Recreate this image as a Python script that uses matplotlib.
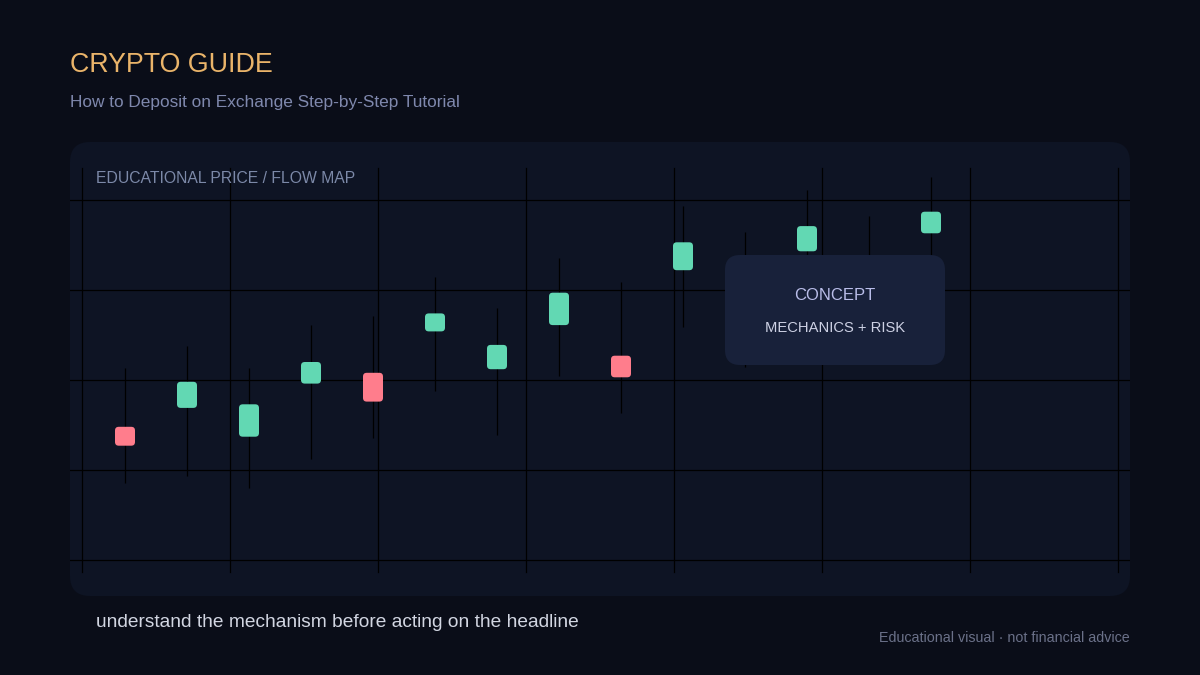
import matplotlib
matplotlib.use("Agg")
import matplotlib.pyplot as plt
from matplotlib.patches import FancyBboxPatch
import numpy as np

plt.rcParams['font.family'] = ['Liberation Sans', 'DejaVu Sans']

# candle data (price units), 14 sessions
opens = [114.8, 116.9, 113.7, 119.6, 120.8, 125.4, 121.2, 126.1, 122.7, 132.2, 130.0, 134.3, 130.5, 136.3]
closes = [112.7, 119.8, 117.3, 122.0, 117.6, 127.4, 123.9, 129.7, 120.3, 135.3, 132.8, 137.1, 132.9, 138.7]
highs = [121.3, 123.8, 121.3, 126.1, 127.1, 131.4, 128.0, 133.6, 130.9, 139.3, 136.4, 141.1, 138.2, 142.6]
lows = [108.6, 109.3, 108.0, 111.2, 113.6, 118.8, 113.9, 120.4, 116.3, 125.9, 121.4, 128.0, 124.0, 130.0]
price_grid = [100, 110, 120, 130, 140]

BG = '#0a0d18'
PANEL = '#0e1424'
GREEN = '#62d8b3'
RED = '#ff7d8c'

W, H, DPI = 1200, 675, 100
fig = plt.figure(figsize=(W / DPI, H / DPI), dpi=DPI, facecolor=BG)

def px(x, y):
    # pixel (from top-left) -> inches for dpi_scale_trans
    return x / DPI, (H - y) / DPI

# panel background
x0, y0 = px(70, 596)
panel = FancyBboxPatch((x0, y0), 1060 / DPI, 454 / DPI,
                       boxstyle="round,pad=0,rounding_size=0.2",
                       transform=fig.dpi_scale_trans, facecolor=PANEL,
                       edgecolor='none', zorder=-1)
fig.patches.append(panel)

ax = fig.add_axes([70 / W, (H - 596) / H, 1060 / W, 454 / H])
ax.set_facecolor('none')
ax.set_xlim((70 - 125) / 62, (1130 - 125) / 62)
ax.set_ylim(100 - 36 / 9, 100 + (560 - 142) / 9)
ax.axis('off')

# grid
for p in price_grid:
    ax.axhline(p, color='#000000', lw=0.9, zorder=1)
vy0, vy1 = (596 - 572) / 454, (596 - 168) / 454
for fx in np.arange(12, 1060, 148) / 1060:
    ax.plot([fx, fx], [vy0, vy1], transform=ax.transAxes, color='#000000', lw=0.9, zorder=1)

# candles
bw = 20 / 62
for i, (o, c, h, l) in enumerate(zip(opens, closes, highs, lows)):
    col = GREEN if c >= o else RED
    ax.vlines(i, l, h, color='#000000', lw=0.9, zorder=2)
    box = FancyBboxPatch((i - bw / 2, min(o, c)), bw, abs(c - o),
                         boxstyle="round,pad=0,rounding_size=0.06",
                         mutation_aspect=62 / 9, facecolor=col,
                         edgecolor='none', zorder=3)
    ax.add_patch(box)

# concept box
bx, by = px(725, 365)
concept = FancyBboxPatch((bx, by), 220 / DPI, 110 / DPI,
                         boxstyle="round,pad=0,rounding_size=0.15",
                         transform=fig.dpi_scale_trans, facecolor='#18213a',
                         edgecolor='none', zorder=5)
fig.patches.append(concept)
fig.text(835 / W, 1 - 295 / H, 'CONCEPT', color='#b9bde9', fontsize=12,
         ha='center', va='center', zorder=6)
fig.text(835 / W, 1 - 328 / H, 'MECHANICS + RISK', color='#cdd1e4', fontsize=10.6,
         ha='center', va='center', zorder=6)

# texts
fig.text(70 / W, 1 - 64.5 / H, 'CRYPTO GUIDE', color='#eab46a', fontsize=19.3,
         ha='left', va='center')
fig.text(70 / W, 1 - 103 / H, 'How to Deposit on Exchange Step-by-Step Tutorial',
         color='#7f88ad', fontsize=12.4, ha='left', va='center')
fig.text(96 / W, 1 - 178 / H, 'EDUCATIONAL PRICE / FLOW MAP', color='#7c89a8',
         fontsize=11.3, ha='left', va='center', zorder=6)
fig.text(96 / W, 1 - 622.5 / H, 'understand the mechanism before acting on the headline',
         color='#d2d6e2', fontsize=13.8, ha='left', va='center')
fig.text(1130 / W, 1 - 638 / H, 'Educational visual · not financial advice',
         color='#6b7189', fontsize=10.3, ha='right', va='center')

fig.savefig('out.png', dpi=DPI, facecolor=BG)
